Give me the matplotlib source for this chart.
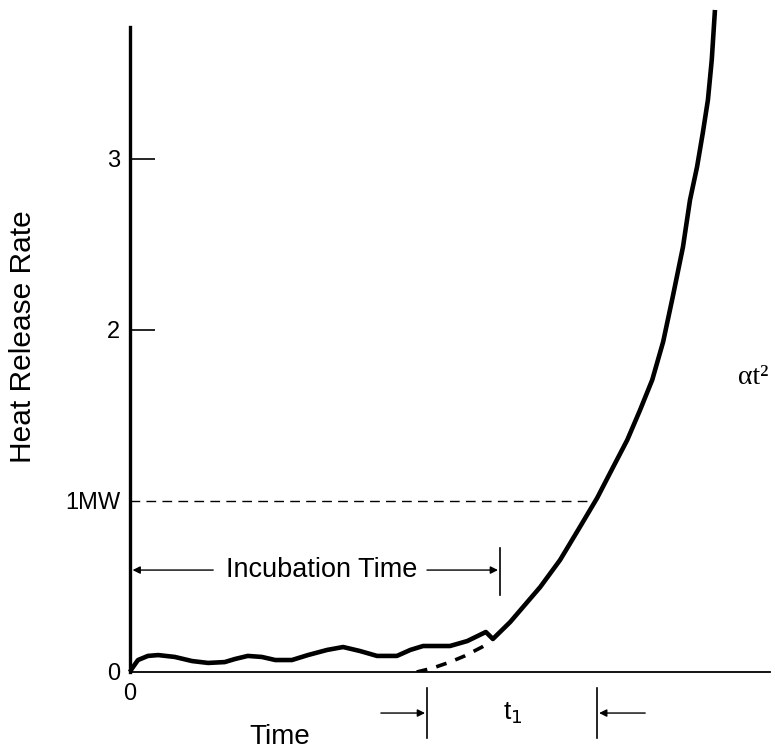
import matplotlib.pyplot as plt

plt.rcParams['font.family'] = ['Liberation Sans', 'DejaVu Sans']

# heat release curve (time in arbitrary units, HRR in MW)
curve_t = [0.0, 0.03, 0.125, 0.28, 0.44, 0.70, 0.97, 1.22, 1.48, 1.64, 1.84,
           2.06, 2.27, 2.53, 2.78, 3.08, 3.33, 3.59, 3.86, 4.17, 4.38, 4.58,
           5.00, 5.27, 5.56, 5.67, 5.94, 6.41, 6.72, 7.03, 7.30, 7.55, 7.77,
           7.97, 8.16, 8.33, 8.48, 8.64, 8.75, 8.86, 8.95, 9.03, 9.09, 9.14]
curve_hrr = [0.0, 0.02, 0.070, 0.094, 0.099, 0.088, 0.064, 0.053, 0.058,
             0.076, 0.094, 0.088, 0.070, 0.070, 0.099, 0.129, 0.146, 0.123,
             0.094, 0.094, 0.129, 0.152, 0.152, 0.181, 0.234, 0.193, 0.292,
             0.497, 0.655, 0.848, 1.018, 1.199, 1.357, 1.532, 1.708, 1.93,
             2.193, 2.485, 2.760, 2.953, 3.152, 3.345, 3.579, 3.871]

# back-extrapolated alpha t^2 start
extrap_t = [4.48, 4.73, 5.00, 5.23, 5.50, 5.58]
extrap_hrr = [0.0, 0.023, 0.058, 0.094, 0.146, 0.164]

ytick_vals = [0, 1, 2, 3]
ytick_labels = ['0', '1MW', '2', '3']
one_mw = 1.0
t_one_mw = 7.28
t_incubation_end = 5.78
t1_start, t1_end = 4.64, 7.30

fig = plt.figure(figsize=(7.75, 7.54), dpi=100)
ax = fig.add_axes([130/775, 82/754, 640/775, 667/754])
ax.set_xlim(0, 10)
ax.set_ylim(0, 3.9)

ax.plot(curve_t, curve_hrr, color='black', lw=3.3, solid_joinstyle='round',
        solid_capstyle='butt', clip_on=False)
ax.plot(extrap_t, extrap_hrr, color='black', lw=2.6, dashes=(3.0, 2.6))

# 1MW reference
ax.plot([0, t_one_mw], [one_mw, one_mw], color='black', lw=1.0,
        dashes=(7, 4.5))

# spines
for s in ['top', 'right']:
    ax.spines[s].set_visible(False)
ax.spines['left'].set_linewidth(2.4)
ax.spines['left'].set_bounds(0, 3.77)
ax.spines['bottom'].set_linewidth(1.3)

ax.set_yticks(ytick_vals, ytick_labels, fontsize=17)
ax.set_xticks([0], ['0'], fontsize=17)
ax.tick_params(axis='y', direction='in', length=18, width=1.2, pad=7)
ax.tick_params(axis='x', length=0, pad=8)
for tk in ax.yaxis.get_major_ticks()[:2]:
    tk.tick1line.set_visible(False)

fig.text(23/775, 1 - 337/754, 'Heat Release Rate', fontsize=21.5,
         rotation=90, ha='center', va='center')
fig.text(280/775, 1 - 737/754, 'Time', fontsize=20, ha='center',
         va='center')

arrow = dict(arrowstyle='-|>', lw=1.0, color='black', mutation_scale=11,
             shrinkA=0, shrinkB=0)

# incubation time
y_inc = 0.596
ax.text(3.0, y_inc, 'Incubation Time', fontsize=19.5, ha='center',
        va='center')
ax.annotate('', xy=(0.04, y_inc), xytext=(1.30, y_inc), arrowprops=arrow)
ax.annotate('', xy=(t_incubation_end - 0.03, y_inc), xytext=(4.64, y_inc),
            arrowprops=arrow)
ax.plot([t_incubation_end, t_incubation_end], [0.45, 0.725], color='black',
        lw=1.2)

# t1 interval
y_t1 = -0.24
ax.plot([t1_start, t1_start], [-0.094, -0.386], color='black', lw=1.2,
        clip_on=False)
ax.plot([t1_end, t1_end], [-0.094, -0.386], color='black', lw=1.2,
        clip_on=False)
ax.annotate('', xy=(t1_start - 0.03, y_t1), xytext=(3.92, y_t1),
            arrowprops=arrow, annotation_clip=False)
ax.annotate('', xy=(t1_end + 0.03, y_t1), xytext=(8.05, y_t1),
            arrowprops=arrow, annotation_clip=False)
ax.text(5.98, y_t1, 't$_1$', fontsize=19, ha='center', va='center',
        clip_on=False)

ax.text(9.74, 1.72, '\u03b1t\u00b2', fontsize=20, ha='center', va='center',
        family=['Liberation Serif', 'DejaVu Serif'], clip_on=False)

fig.savefig('out.png', dpi=100)
